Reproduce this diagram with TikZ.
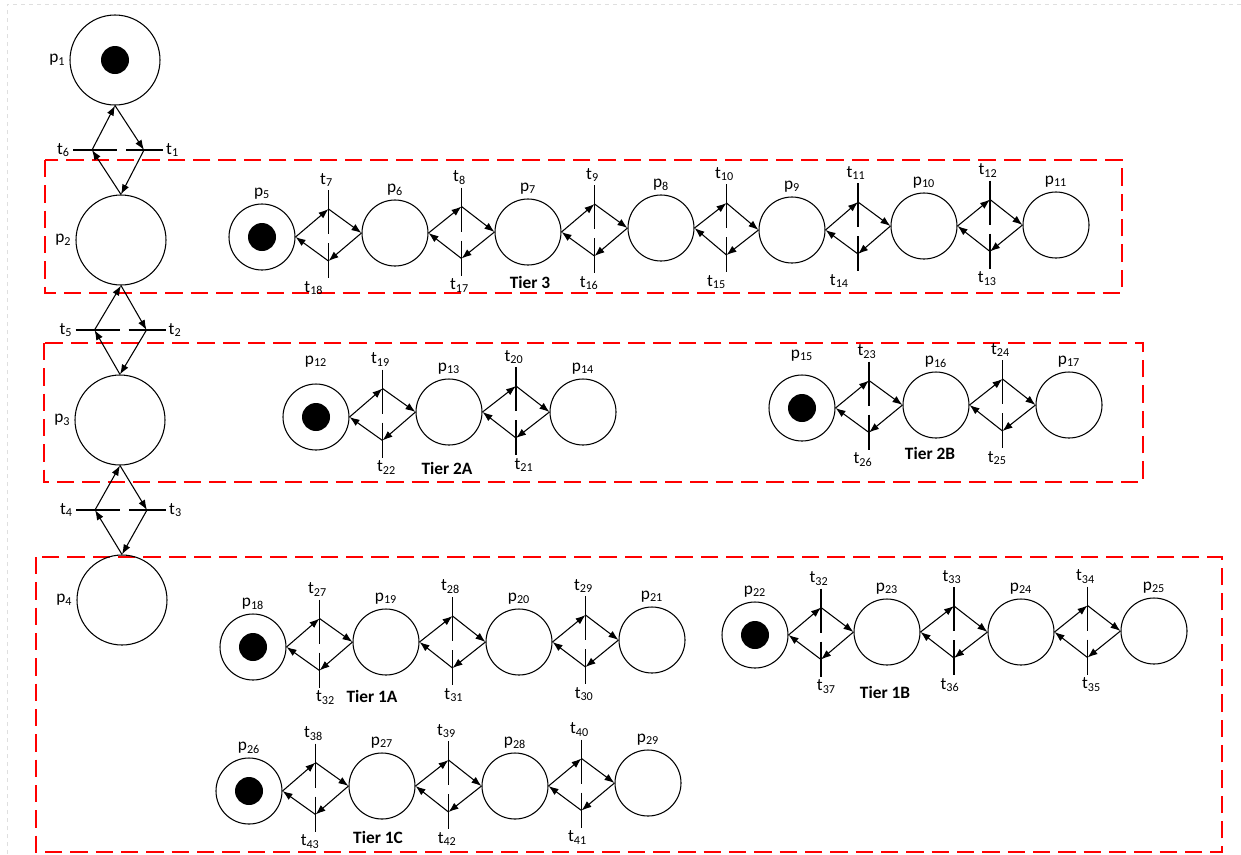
\documentclass[tikz,border=0pt]{standalone}
\usepackage{fontspec}
\setmainfont{Carlito}
\usetikzlibrary{positioning,calc,arrows.meta}

% two transitions between two places of a row (#3 top, #4 bottom, #5 shift of bottom label)
\newcommand{\trow}[5]{%
  \path (#1.east) -- coordinate[pos=.5] (#1#2) (#2.west);
  \coordinate (#1#2up) at ($(#1#2)+(0,-26)$);
  \coordinate (#1#2dn) at ($(#1#2)+(0,26)$);
  \draw[tbar] ($(#1#2)+(0,-45)$) node[tlab,above,xshift=-1.5pt] (#1#2t) {t\textsubscript{#3}}
     -- ($(#1#2)+(0,43)$) node[tlab,below,xshift=#5] (#1#2b) {t\textsubscript{#4}};
  \draw[flow] (#1.east) -- (#1#2up);
  \draw[flow] (#1#2up) -- (#2.west);
  \draw[flow] (#2.west) -- (#1#2dn);
  \draw[flow] (#1#2dn) -- (#1.east);
}
% two transitions between two places of the left column (#3 right, #4 left)
\newcommand{\tcol}[4]{%
  \path (#1.south) -- coordinate[pos=.5] (#1#2) (#2.north);
  \coordinate (#1#2r) at ($(#1#2)+(26,0)$);
  \coordinate (#1#2l) at ($(#1#2)+(-26,0)$);
  \draw[tbar] ($(#1#2)+(-45,0)$) node[tlab,left] (#1#2tl) {t\textsubscript{#4}}
     -- ($(#1#2)+(45,0)$) node[tlab,right] (#1#2tr) {t\textsubscript{#3}};
  \draw[flow] (#1.south) -- (#1#2r);
  \draw[flow] (#1#2r) -- (#2.north);
  \draw[flow] (#2.north) -- (#1#2l);
  \draw[flow] (#1#2l) -- (#1.south);
}

\begin{document}
\begin{tikzpicture}[
        x=0.75pt, y=-0.75pt,
        font=\fontsize{13}{15}\selectfont,
        place/.style={circle, draw, line width=0.8pt, minimum size=49.5pt, inner sep=0pt},
        big/.style={minimum size=67.5pt},
        marked/.style={path picture={\fill (path picture bounding box.center) circle (10.5pt);}},
        plab/.style={inner sep=2pt, label distance=1pt},
        tlab/.style={inner sep=2pt},
        tbar/.style={line width=0.8pt, dash pattern=on 33pt off 6.75pt},
        flow/.style={line width=0.8pt, -{Latex[length=7.5pt,width=5.5pt]}},
        tierbox/.style={red, line width=1pt, dash pattern=on 13pt off 6pt},
        tier/.style={font=\fontsize{13}{15}\selectfont\bfseries}
    ]
    \useasboundingbox (0,0) rectangle (1241,854);
    \draw[gray!25, dashed] (7,854) -- (7,4) -- (1241,4);

    % tiers
    \draw[tierbox] (45,160) rectangle (1122,293);
    \draw[tierbox] (44,343) rectangle (1143,482);
    \draw[tierbox] (36,557) rectangle (1222,852);

    % left column
    \node[place, big, marked, label={[plab]left:{p\textsubscript{1}}}] (p1) at (115,60) {};
    \node[place, big, label={[plab]left:{p\textsubscript{2}}}] (p2) at (121,240) {};
    \node[place, big, label={[plab]left:{p\textsubscript{3}}}] (p3) at (120,420) {};
    \node[place, big, label={[plab]left:{p\textsubscript{4}}}] (p4) at (122,600) {};
    \tcol{p1}{p2}{1}{6}
    \tcol{p2}{p3}{2}{5}
    \tcol{p3}{p4}{3}{4}

    % Tier 3
    \node[place, marked, label={[plab]above:{p\textsubscript{5}}}] (p5) at (262,237) {};
    \node[place, label={[plab]above:{p\textsubscript{6}}}] (p6) at (395,233) {};
    \node[place, label={[plab]above:{p\textsubscript{7}}}] (p7) at (528,232) {};
    \node[place, label={[plab]above:{p\textsubscript{8}}}] (p8) at (661,228) {};
    \node[place, label={[plab]above:{p\textsubscript{9}}}] (p9) at (792,230) {};
    \node[place, label={[plab]above:{p\textsubscript{10}}}] (p10) at (924,226) {};
    \node[place, label={[plab]above:{p\textsubscript{11}}}] (p11) at (1056,225) {};
    \trow{p5}{p6}{7}{18}{-11pt}
    \trow{p6}{p7}{8}{17}{-1.5pt}
    \trow{p7}{p8}{9}{16}{-4pt}
    \trow{p8}{p9}{10}{15}{-7.5pt}
    \trow{p9}{p10}{11}{14}{-14pt}
    \trow{p10}{p11}{12}{13}{-2pt}
    \node[tier] (tier3) at (530,282) {Tier 3};

    % Tier 2A
    \node[place, marked, label={[plab, label distance=10pt]above:{p\textsubscript{12}}}] (p12) at (316,417) {};
    \node[place, label={[plab]above:{p\textsubscript{13}}}] (p13) at (449,412) {};
    \node[place, label={[plab]above:{p\textsubscript{14}}}] (p14) at (583,412) {};
    \trow{p12}{p13}{19}{22}{3pt}
    \trow{p13}{p14}{20}{21}{6pt}
    \node[tier] (tier2a) at (447,468) {Tier 2A};

    % Tier 2B
    \node[place, marked, label={[plab, label distance=8pt]above:{p\textsubscript{15}}}] (p15) at (802,408) {};
    \node[place, label={[plab]above:{p\textsubscript{16}}}] (p16) at (936,405) {};
    \node[place, label={[plab]above:{p\textsubscript{17}}}] (p17) at (1069,405) {};
    \trow{p15}{p16}{23}{26}{-4.5pt}
    \trow{p16}{p17}{24}{25}{-4pt}
    \node[tier] (tier2b) at (930,453) {Tier 2B};

    % Tier 1A
    \node[place, marked, label={[plab]above:{p\textsubscript{18}}}] (p18) at (253,647) {};
    \node[place, label={[plab]above:{p\textsubscript{19}}}] (p19) at (386,642) {};
    \node[place, label={[plab]above:{p\textsubscript{20}}}] (p20) at (519,642) {};
    \node[place, label={[plab]above:{p\textsubscript{21}}}] (p21) at (652,640) {};
    \trow{p18}{p19}{27}{32}{4.5pt}
    \trow{p19}{p20}{28}{31}{1pt}
    \trow{p20}{p21}{29}{30}{-1pt}
    \node[tier] (tier1a) at (372,696) {Tier 1A};

    % Tier 1B
    \node[place, marked, label={[plab]above:{p\textsubscript{22}}}] (p22) at (755,635) {};
    \node[place, label={[plab]above:{p\textsubscript{23}}}] (p23) at (887,632) {};
    \node[place, label={[plab]above:{p\textsubscript{24}}}] (p24) at (1021,632) {};
    \node[place, label={[plab]above:{p\textsubscript{25}}}] (p25) at (1154,631) {};
    \trow{p22}{p23}{32}{37}{4pt}
    \trow{p23}{p24}{33}{36}{-3pt}
    \trow{p24}{p25}{34}{35}{3pt}
    \node[tier] (tier1b) at (885,692) {Tier 1B};

    % Tier 1C
    \node[place, marked, label={[plab]above:{p\textsubscript{26}}}] (p26) at (249,791) {};
    \node[place, label={[plab]above:{p\textsubscript{27}}}] (p27) at (382,786) {};
    \node[place, label={[plab]above:{p\textsubscript{28}}}] (p28) at (515,786) {};
    \node[place, label={[plab]above:{p\textsubscript{29}}}] (p29) at (648,783) {};
    \trow{p26}{p27}{38}{43}{-4pt}
    \trow{p27}{p28}{39}{42}{-1pt}
    \trow{p28}{p29}{40}{41}{-3pt}
    \node[tier] (tier1c) at (378,837) {Tier 1C};
\end{tikzpicture}
\end{document}
